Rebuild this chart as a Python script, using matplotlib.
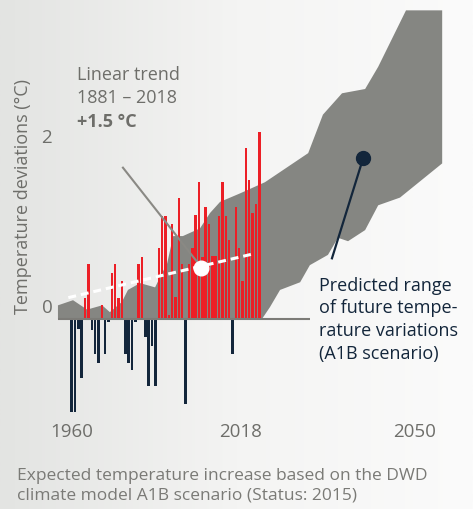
import numpy as np
import matplotlib.pyplot as plt
from matplotlib.colors import LinearSegmentedColormap

plt.rcParams['font.family'] = ['Open Sans', 'DejaVu Sans']

# yearly temperature deviations (°C), one bar per year
years = np.arange(1962, 2019)
deviations = [-1.09, -1.09, -0.12, -0.69, 0.25, 0.64, -0.13, -0.41, -0.51, 0.16,
              -0.41, -0.03, 0.54, 0.64, 0.25, 0.44, -0.41, -0.51, -0.60, -0.03,
              0.64, 0.73, -0.21, -0.78, -0.31, -0.78, 0.83, 1.20, 1.20, 0.05,
              1.11, 0.26, 1.41, 0.64, -0.99, 0.64, 0.83, 1.22, 1.60, 0.73,
              1.31, 1.11, 0.74, 0.74, 1.21, 1.60, 1.21, 0.92, -0.41, 1.31,
              0.83, 0.44, 2.00, 1.62, 1.24, 1.35, 2.19]

# grey band: smoothed history + predicted range (upper edge, then lower edge back)
range_x = [1957.9, 1957.9, 1962.4, 1966.6, 1971.1, 1973.4, 1977.0, 1978.8, 1982.4,
           1986.9, 1988.4, 1990.5, 1992.3, 1995.2, 2000.3, 2003.3, 2006.3, 2012.3,
           2019.7, 2032.6, 2037.0, 2042.7, 2049.6, 2053.5, 2061.8, 2072.6,
           2072.6, 2060.0, 2053.5, 2049.6, 2044.5, 2041.5, 2038.5, 2033.1,
           2030.2, 2024.2, 2021.2, 2018.8]
range_y = [0.0, 0.16, 0.22, 0.11, 0.16, 0.08, 0.20, 0.34, 0.42,
           0.37, 0.49, 0.65, 0.97, 0.97, 1.06, 1.24, 1.37, 1.47,
           1.60, 1.94, 2.39, 2.64, 2.69, 2.95, 3.61, 3.61,
           1.82, 1.42, 1.33, 1.04, 0.91, 0.95, 0.75, 0.63,
           0.43, 0.34, 0.14, 0.0]

# linear trend 1881 - 2018
trend_years = [1961, 2016]
trend_values = [0.25, 0.76]
trend_dot = (2000.6, 0.60)

tick_pos = [1962, 2012.5, 2064.5]
tick_labels = ['1960', '2018', '2050']

red = '#ec1f26'
navy = '#13263b'
grey_band = '#858682'
text_grey = '#6e6e6a'

fig = plt.figure(figsize=(4.73, 5.09), dpi=100)
ax = fig.add_axes([0, 0, 1, 1])
xlim = (1940.6, 2081.8)
ylim = (-2.222, 3.731)

# background: light grey on the left fading to white
bg = LinearSegmentedColormap.from_list('bg', ['#e3e4e2', '#f4f4f3', '#fbfbfb'])
grad = np.linspace(0, 1, 256).reshape(1, -1)
ax.imshow(grad, extent=[xlim[0], xlim[1], ylim[0], ylim[1]], aspect='auto',
          cmap=bg, zorder=0)

ax.fill(range_x, range_y, color=grey_band, lw=0, zorder=1)

dev = np.array(deviations)
colors = [red if d > 0 else navy for d in dev]
ax.bar(years, dev, width=0.75, color=colors, lw=0, zorder=2)

ax.plot([1957.9, 2033.1], [0, 0], color='#7c7b77', lw=1.5, zorder=3,
        solid_capstyle='butt')

ax.plot(trend_years, trend_values, color='white', lw=2.2, dashes=(2.6, 1.6), zorder=4)
ax.plot([1977.3, 1999.4], [1.77, 0.67], color='#8a8984', lw=1.5, zorder=4)
ax.plot(*trend_dot, 'o', color='white', ms=10.5, zorder=5)

# pointer to the predicted range
ax.plot([2049.0, 2039.7], [1.88, 0.71], color=navy, lw=1.6, zorder=4)
ax.plot(2049.0, 1.88, 'o', color=navy, ms=10, zorder=5)

for p, lab in zip(tick_pos, tick_labels):
    ax.text(p, -1.32, lab, ha='center', va='center', fontsize=13.5, color=text_grey)
ax.text(1954.6, 0.13, '0', ha='center', va='center', fontsize=13.5, color=text_grey)
ax.text(1954.6, 2.12, '2', ha='center', va='center', fontsize=13.5, color=text_grey)
ax.text(1947.5, 1.43, 'Temperature deviations (°C)', rotation=90, ha='center',
        va='center', fontsize=13, color=text_grey)

ax.text(1963.6, 2.85, 'Linear trend', ha='left', va='center', fontsize=13, color=text_grey)
ax.text(1963.6, 2.58, '1881 – 2018', ha='left', va='center', fontsize=13, color=text_grey)
ax.text(1963.6, 2.30, '+1.5 °C', ha='left', va='center', fontsize=13, color=text_grey,
        fontweight='bold')

ax.text(2035.8, -0.01, 'Predicted range\nof future tempe-\nrature variations\n(A1B scenario)',
        ha='left', va='center', fontsize=13, color=navy, linespacing=1.35)

fig.text(0.036, 0.045, 'Expected temperature increase based on the DWD\n'
         'climate model A1B scenario (Status: 2015)', ha='left', va='center',
         fontsize=12.5, color='#7a7a76', linespacing=1.3)

ax.set_xlim(xlim)
ax.set_ylim(ylim)
ax.axis('off')

fig.savefig('out.png', dpi=100)
